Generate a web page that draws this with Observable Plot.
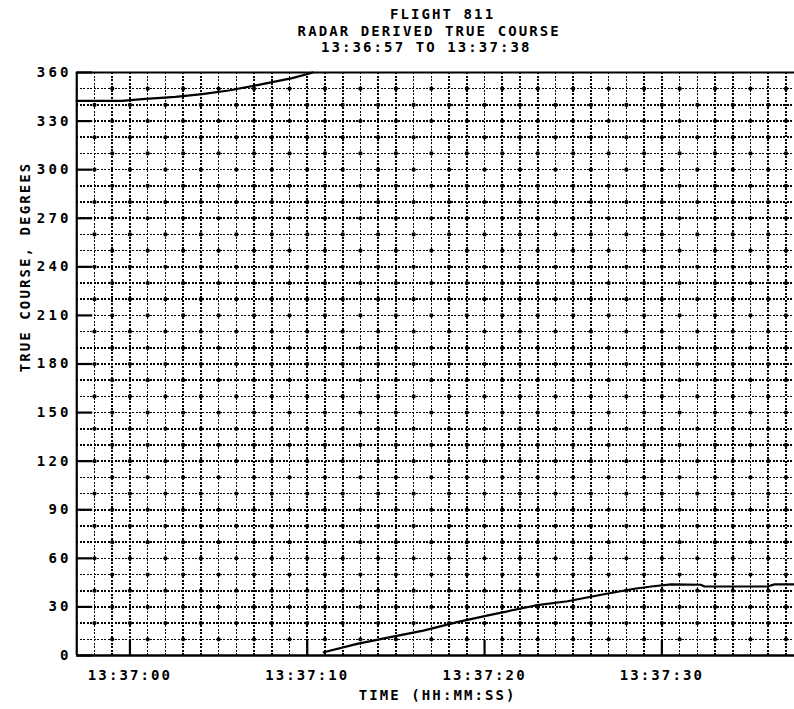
<!DOCTYPE html>
<html>
<head>
<meta charset="utf-8">
<script src="https://cdn.jsdelivr.net/npm/d3@7"></script>
<script src="https://cdn.jsdelivr.net/npm/@observablehq/plot@0.6"></script>
<style>
html, body { margin: 0; padding: 0; background: #fff; overflow: hidden; }
#chart svg { display: block; }
#chart svg text { letter-spacing: 2.1px; font-weight: bold; }
#chart g[aria-label="title1"] text { letter-spacing: 4.6px; }
#chart g[aria-label="title2"] text { letter-spacing: 2.4px; }
#chart g[aria-label="title3"] text { letter-spacing: 1.4px; }
#chart g[aria-label="ylabel"] text { letter-spacing: 3.3px; }
#chart g[aria-label="y-axis tick label"] text { letter-spacing: 3.2px; }
</style>
</head>
<body>
<div id="chart"></div>
<script>
// ---- text ----
const titleLines = ["FLIGHT 811", "RADAR DERIVED TRUE COURSE", "13:36:57 TO 13:37:38"];
const xLabel = "TIME (HH:MM:SS)";
const yLabel = "TRUE COURSE, DEGREES";

// ---- axes (time in seconds relative to 13:37:00) ----
const xDomain = [-3, 38];
const yDomain = [0, 360];
const xTickValues = [0, 10, 20, 30];
const xTickLabels = ["13:37:00", "13:37:10", "13:37:20", "13:37:30"];
const yTickValues = [0, 30, 60, 90, 120, 150, 180, 210, 240, 270, 300, 330, 360];
const gridX = d3.range(-2, 38, 1);      // one dotted line per second
const gridY = d3.range(10, 360, 10);    // one dotted line per 10 degrees

// ---- series: radar derived true course ----
const seg1Time   = [-3, -0.44, 0.69, 2.57, 4.07, 5.57, 7.26, 9.15, 10.08, 10.3];
const seg1Course = [342.5, 342.5, 343.5, 345.0, 346.6, 348.9, 352.4, 356.5, 359.2, 360];
const seg2Time   = [10.93, 12.81, 14.69, 16.55, 18.45, 20.33, 22.87, 24.68, 26.58, 28.45, 29.4, 30.52, 32.2, 32.4, 35.96, 36.35, 38];
const seg2Course = [2.0, 7.2, 11.3, 15.4, 20.6, 25.1, 30.9, 33.5, 37.5, 41.2, 42.6, 43.9, 43.7, 42.6, 42.6, 43.9, 43.9];

const seg1 = seg1Time.map((t, i) => ({t, c: seg1Course[i]}));
const seg2 = seg2Time.map((t, i) => ({t, c: seg2Course[i]}));
const crossings = gridX.flatMap(x => gridY.map(y => ({x, y}))).filter(d => ((d.x + d.y / 10) % 2 + 2) % 2 === 0);

const W = 794, H = 709;
const font = "DejaVu Sans Mono";

const chart = Plot.plot({
  width: W,
  height: H,
  marginLeft: 76.25,
  marginRight: -9.2,
  marginTop: 72,
  marginBottom: 54,
  style: {fontFamily: font, fontSize: "14px", color: "#000", background: "#fff"},
  x: {domain: xDomain},
  y: {domain: yDomain},
  marks: [
    // dotted grid
    Plot.ruleX(gridX, {x: d => d, stroke: "#000", strokeWidth: 1.6, strokeDasharray: "2,1.5", shapeRendering: "crispEdges"}),
    Plot.ruleY(gridY, {y: d => d, stroke: "#000", strokeWidth: 1.6, strokeDasharray: "2,1.5", shapeRendering: "crispEdges"}),
    Plot.dot(crossings, {x: "x", y: "y", r: 2.1, fill: "#000", stroke: "none"}),
    // frame
    Plot.ruleY([yDomain[1]], {stroke: "#000", strokeWidth: 2.2}),
    Plot.ruleY([yDomain[0]], {stroke: "#000", strokeWidth: 2.6}),
    Plot.ruleX([xDomain[0]], {stroke: "#000", strokeWidth: 2.2}),
    // inward tick marks
    Plot.ruleY(yTickValues, {y: d => d, x1: xDomain[0], x2: xDomain[0] + 0.9, stroke: "#000", strokeWidth: 2.2}),
    Plot.ruleX(xTickValues, {x: d => d, y1: yDomain[0], y2: yDomain[0] + 9.3, stroke: "#000", strokeWidth: 2.2}),
    // tick labels
    Plot.axisY({ticks: yTickValues, tickSize: 0, tickPadding: 5, label: null, tickFormat: d => String(d), fontSize: 14}),
    Plot.axisX({ticks: xTickValues, tickSize: 0, tickPadding: 15, label: null, tickFormat: d => xTickLabels[xTickValues.indexOf(d)], fontSize: 14}),
    // data
    Plot.line(seg1, {x: "t", y: "c", stroke: "#000", strokeWidth: 2.2}),
    Plot.line(seg2, {x: "t", y: "c", stroke: "#000", strokeWidth: 2.2}),
    // axis titles
    Plot.text([xLabel], {frameAnchor: "bottom", text: d => d, dy: 40.5, dx: -2.6, lineAnchor: "middle", fontSize: 14, fill: "#000"}),
    Plot.text([yLabel], {frameAnchor: "left", text: d => d, rotate: -90, dx: -51, dy: 8.3, lineAnchor: "middle", fontSize: 14, fill: "#000", ariaLabel: "ylabel"}),
    // title
    Plot.text([titleLines[0]], {frameAnchor: "top", text: d => d, dy: -58, dx: 2.3, lineAnchor: "middle", fontSize: 14, fill: "#000", ariaLabel: "title1"}),
    Plot.text([titleLines[1]], {frameAnchor: "top", text: d => d, dy: -41, dx: -11, lineAnchor: "middle", fontSize: 14, fill: "#000", ariaLabel: "title2"}),
    Plot.text([titleLines[2]], {frameAnchor: "top", text: d => d, dy: -25.3, dx: -14, lineAnchor: "middle", fontSize: 14, fill: "#000", ariaLabel: "title3"})
  ]
});

document.getElementById("chart").appendChild(chart);
</script>
</body>
</html>
